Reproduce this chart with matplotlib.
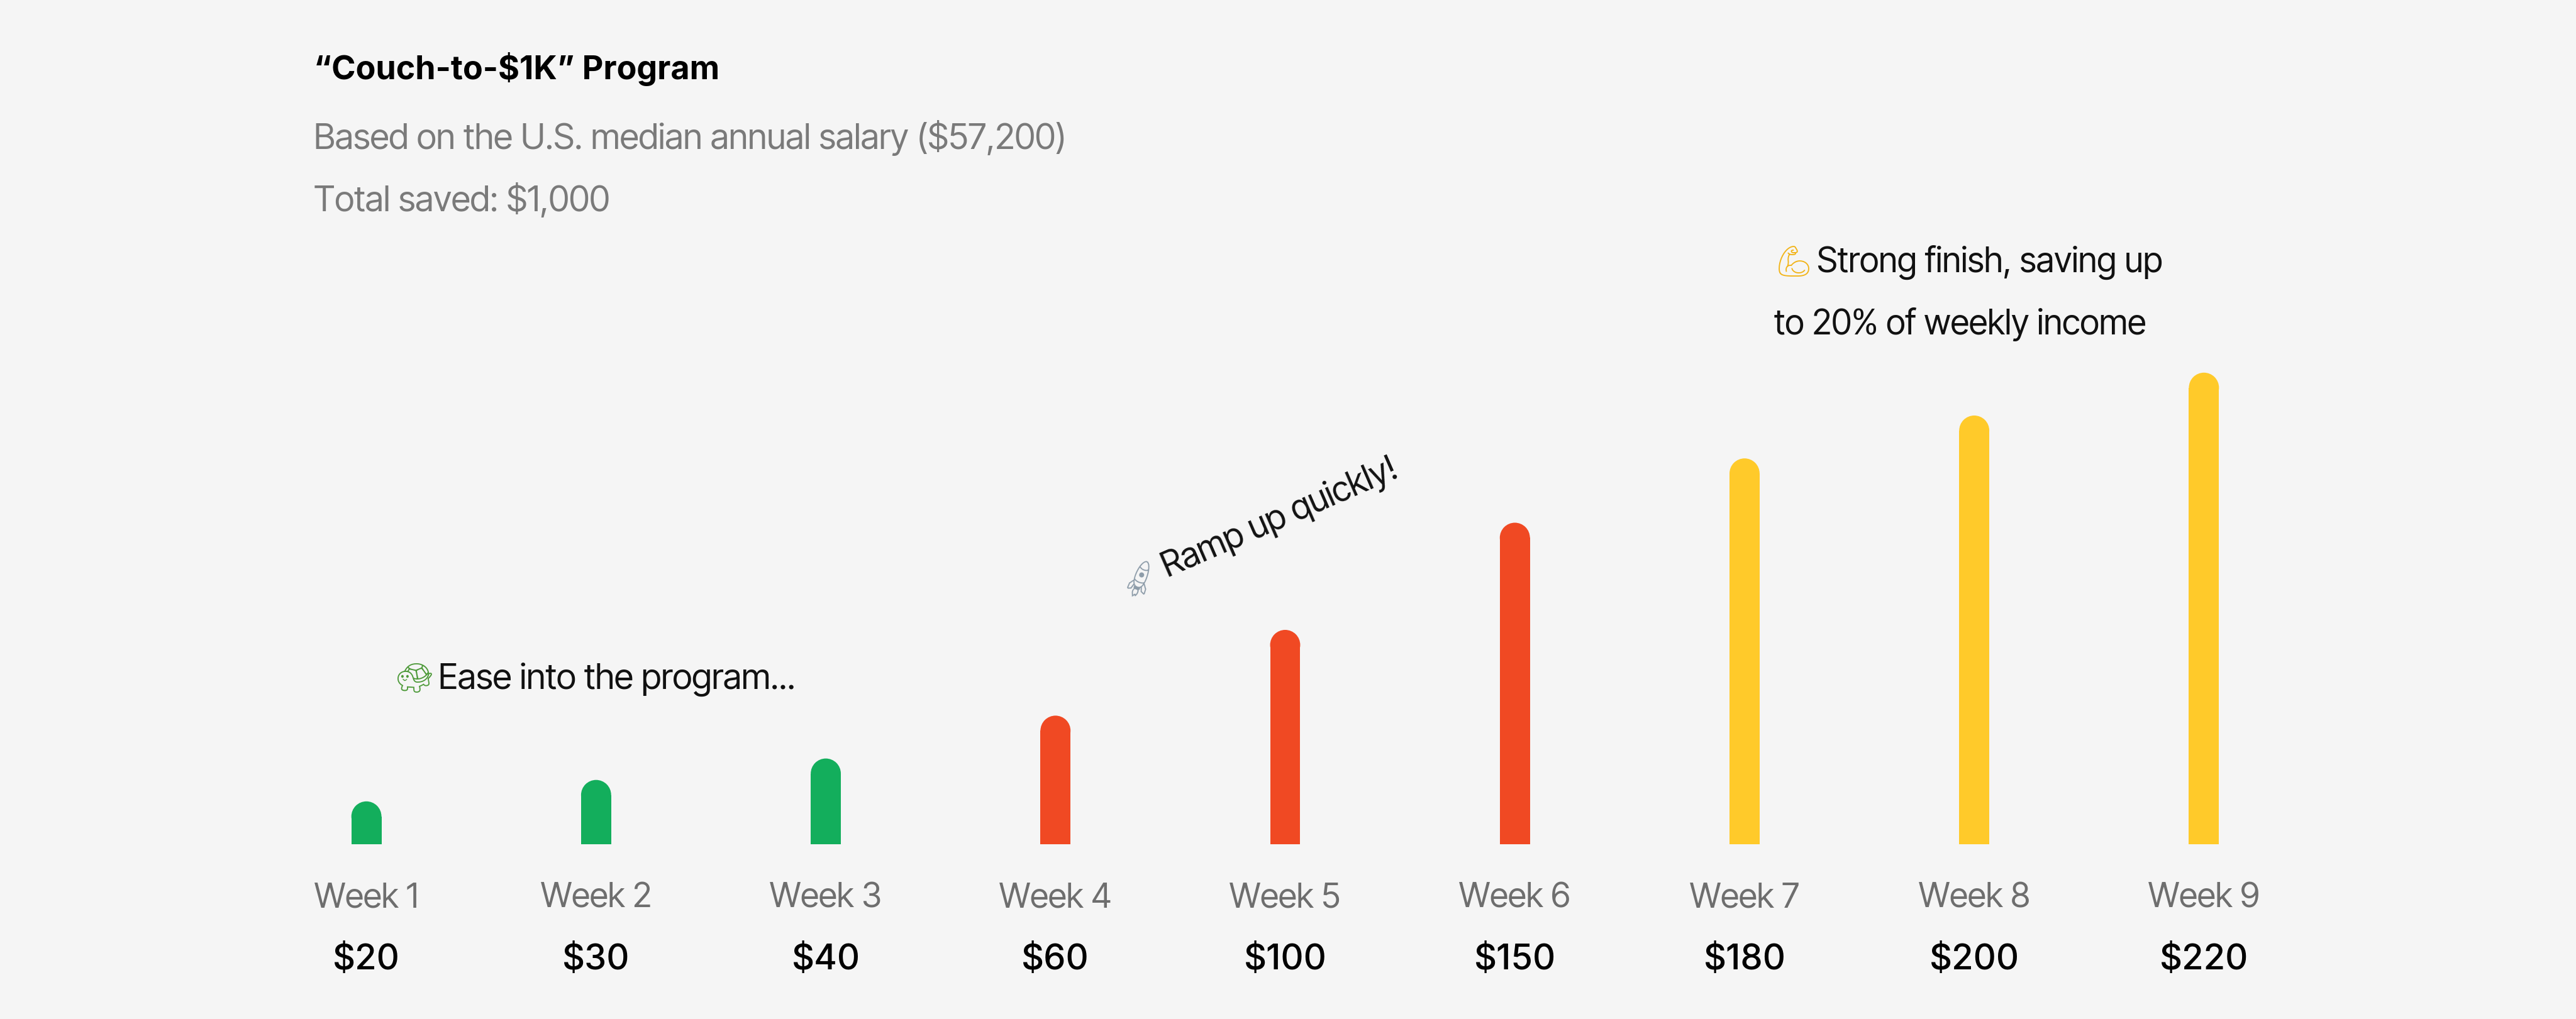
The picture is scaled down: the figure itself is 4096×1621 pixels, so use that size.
import numpy as np
import matplotlib
matplotlib.use("Agg")
import matplotlib.pyplot as plt
from matplotlib import font_manager
from matplotlib.font_manager import FontProperties
from matplotlib.patches import Ellipse

weeks = ["Week 1", "Week 2", "Week 3", "Week 4", "Week 5", "Week 6", "Week 7", "Week 8", "Week 9"]
saved = [20, 30, 40, 60, 100, 150, 180, 200, 220]
phase = ["ease", "ease", "ease", "ramp", "ramp", "ramp", "strong", "strong", "strong"]
phase_colors = {"ease": "#13AE5C", "ramp": "#F04923", "strong": "#FFCA2A"}

title = "\u201cCouch-to-$1K\u201d Program"
subtitle = "Based on the U.S. median annual salary ($57,200)"
total_line = "Total saved: $1,000"
ease_emoji, ease_text = "\U0001F422", "Ease into the program..."
ramp_emoji, ramp_text = "\U0001F680", "Ramp up quickly!"
strong_emoji = "\U0001F4AA"
strong_lines = ["Strong finish, saving up", "to 20% of weekly income"]

installed = set(f.name for f in font_manager.fontManager.ttflist)
base = next(n for n in ["Inter Tight", "Inter", "Roboto", "DejaVu Sans"] if n in installed)
plt.rcParams["font.family"] = [base, "Noto Emoji", "DejaVu Sans"]


def weighted_font(weight, size):
    # first static face with the wanted weight, from a list of look-alike families
    for name in ["Inter Tight", "Inter", "Roboto", "Open Sans", "Lato", "Liberation Sans"]:
        faces = [f for f in font_manager.fontManager.ttflist
                 if f.name == name and f.style == "normal" and f.weight == weight]
        if faces:
            return FontProperties(fname=faces[0].fname, size=size)
    return FontProperties(family=base, weight=weight, size=size)


bg = "#F5F5F5"
W, H = 4096, 1621
fig = plt.figure(figsize=(W / 72, H / 72), dpi=72, facecolor=bg)

# axes placed so 1 week = 365 px and $1 = 3.41 px, baseline at 1343 px from top
ax = fig.add_axes([400 / W, 278 / H, 3287 / W, 1023 / H])
ax.set_facecolor(bg)
ax.set_xlim(-0.5, 8.5)
ax.set_ylim(0, 300)
ax.axis("off")

x = np.arange(len(weeks))
bar_w = 0.131
colors = [phase_colors[p] for p in phase]

# radius of the rounded top in y units, same size in pixels as half the bar width
px_x = ax.transData.transform((1, 0))[0] - ax.transData.transform((0, 0))[0]
px_y = ax.transData.transform((0, 1))[1] - ax.transData.transform((0, 0))[1]
ry = bar_w / 2 * px_x / px_y

vals = np.array(saved, dtype=float)
ax.bar(x, vals - ry, width=bar_w, color=colors, linewidth=0)
for xi, v, c in zip(x, vals, colors):
    ax.add_patch(Ellipse((xi, v - ry), bar_w, 2 * ry, color=c, linewidth=0))

fs = 54
value_font = weighted_font(500, 56)
for xi, wk, v in zip(x, weeks, saved):
    ax.annotate(wk, (xi, 0), xytext=(0, -86), textcoords="offset points",
                ha="center", va="center", fontsize=fs, color="#6E6E6E")
    ax.annotate(f"${v}", (xi, 0), xytext=(0, -184), textcoords="offset points",
                ha="center", va="center", fontproperties=value_font, color="#000000")

# annotations: coloured emoji then the message
ax.text(0.127, 77, ease_emoji, ha="left", va="center", fontsize=48, color="#4E9A3A")
ax.annotate(ease_text, (0.127, 77), xytext=(68, 0), textcoords="offset points",
            ha="left", va="center", fontsize=56, color="#111111")

ang = 23.5
rx0, ry0 = 3.29, 120
ax.text(rx0, ry0, ramp_emoji, ha="left", va="center", fontsize=48, color="#8C9BA8",
        rotation=ang, rotation_mode="anchor")
d = 72
ax.annotate(ramp_text, (rx0, ry0),
            xytext=(d * np.cos(np.radians(ang)), d * np.sin(np.radians(ang))),
            textcoords="offset points", ha="left", va="center", fontsize=55,
            color="#111111", rotation=ang, rotation_mode="anchor")

sx0, sy0 = 6.13, 271.5
ax.text(sx0, sy0, strong_emoji, ha="left", va="center", fontsize=48, color="#F2B418")
ax.annotate(strong_lines[0], (sx0, sy0), xytext=(68, 0), textcoords="offset points",
            ha="left", va="center", fontsize=55, color="#111111")
ax.annotate(strong_lines[1], (sx0, sy0), xytext=(0, -99), textcoords="offset points",
            ha="left", va="center", fontsize=55, color="#111111")

fig.text(499 / W, 1 - 110 / H, title, ha="left", va="center",
         fontproperties=weighted_font(700, 52), color="#000000")
fig.text(499 / W, 1 - 219 / H, subtitle, ha="left", va="center", fontsize=56, color="#7A7A7A")
fig.text(499 / W, 1 - 319 / H, total_line, ha="left", va="center", fontsize=56, color="#7A7A7A")

fig.savefig("out.png", dpi=72, facecolor=bg)
